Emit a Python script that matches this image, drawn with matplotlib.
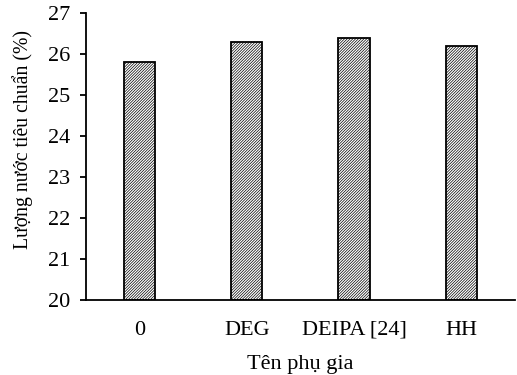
import matplotlib
matplotlib.use('Agg')
import matplotlib.pyplot as plt

# Data
categories = ['0', 'DEG', 'DEIPA [24]', 'HH']
values = [25.8, 26.3, 26.4, 26.2]

plt.rcParams['font.family'] = ['Liberation Serif', 'DejaVu Serif']
plt.rcParams['hatch.linewidth'] = 0.5

fig = plt.figure(figsize=(5.17, 3.75), dpi=100)
ax = fig.add_axes([0.166, 0.2, 0.83, 0.765])

ax.bar(range(len(categories)), [v - 20 for v in values], bottom=20, width=0.29,
       color='white', edgecolor='black', hatch='////////////', linewidth=1.3)

ax.set_xlim(-0.5, 3.5)
ax.set_ylim(20, 27)
ax.set_yticks(range(20, 28))
ax.set_xticks(range(len(categories)))
ax.set_xticklabels(categories)

ax.spines['top'].set_visible(False)
ax.spines['right'].set_visible(False)
ax.spines['left'].set_linewidth(1.3)
ax.spines['bottom'].set_linewidth(1.3)
ax.tick_params(axis='x', length=0, pad=15, labelsize=16)
ax.tick_params(axis='y', direction='out', length=4, width=1.3, pad=7, labelsize=16)

ax.set_xlabel('Tên phụ gia', fontsize=16, labelpad=11)
ax.set_ylabel('Lượng nước tiêu chuẩn (%)', fontsize=14.2)
ax.yaxis.set_label_coords(-0.124, 0.56)

fig.savefig('out.png', dpi=100)
